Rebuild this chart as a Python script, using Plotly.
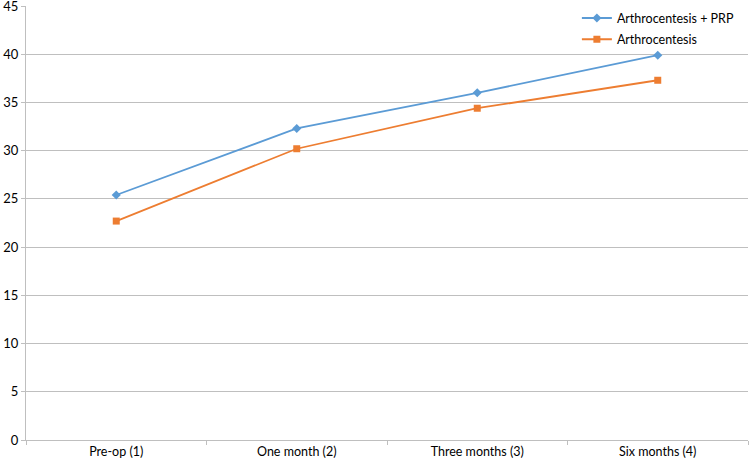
import plotly.graph_objects as go

categories = ["Pre-op (1)", "One month (2)", "Three months (3)", "Six months (4)"]
prp_values = [25.4, 32.3, 36.0, 39.9]
arthro_values = [22.7, 30.2, 34.4, 37.3]
y_ticks = [0, 5, 10, 15, 20, 25, 30, 35, 40, 45]

fig = go.Figure()
fig.add_trace(go.Scatter(
    x=categories, y=prp_values, name="Arthrocentesis + PRP",
    mode="lines+markers", legendgroup="a",
    line=dict(color="#5B9BD5", width=1.8),
    marker=dict(symbol="diamond", size=7, color="#5B9BD5"),
))
fig.add_trace(go.Scatter(
    x=categories, y=arthro_values, name="Arthrocentesis",
    mode="lines+markers", legendgroup="b",
    line=dict(color="#ED7D31", width=1.8),
    marker=dict(symbol="square", size=7, color="#ED7D31"),
))

fig.update_layout(
    width=750, height=461,
    margin=dict(l=26, r=2, t=6, b=21, autoexpand=False),
    paper_bgcolor="white", plot_bgcolor="white",
    font=dict(family="Lato, Open Sans, sans-serif", size=12, color="#000000"),
    showlegend=True,
    legend=dict(
        x=0.763, y=1.006, xanchor="left", yanchor="top",
        bgcolor="rgba(255,255,255,0)",
        font=dict(size=12.5),
        itemwidth=30,
        traceorder="grouped",
        tracegroupgap=2,
    ),
    xaxis=dict(
        type="category",
        range=[-0.5, 3.5],
        automargin=False,
        showline=True, linecolor="#BFBFBF", linewidth=1,
        ticks="outside", tickson="boundaries", ticklen=4, tickcolor="#BFBFBF",
        showgrid=False,
        tickfont=dict(size=12.5),
        ticklabeloverflow="allow",
    ),
    yaxis=dict(
        range=[0, 45],
        automargin=False,
        tickvals=y_ticks,
        showline=True, linecolor="#BFBFBF", linewidth=1,
        ticks="outside", ticklen=4, tickcolor="#BFBFBF",
        showgrid=True, gridcolor="#BFBFBF", gridwidth=1,
        zeroline=False,
        tickfont=dict(size=13),
        ticklabeloverflow="allow",
    ),
)

fig.write_html(
    "out.html",
    config={"displayModeBar": False},
    post_script="document.body.style.margin='0';",
)
